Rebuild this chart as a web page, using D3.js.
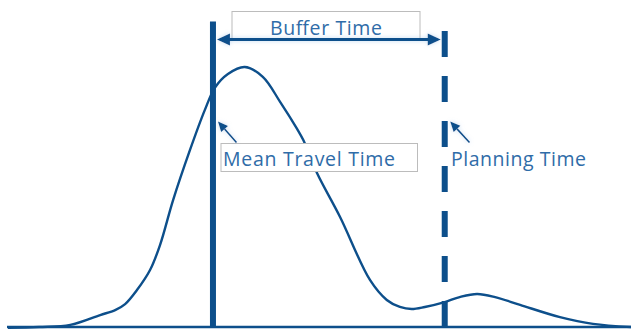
<!DOCTYPE html>
<html>
<head>
<meta charset="utf-8">
<script src="https://cdn.jsdelivr.net/npm/d3@7"></script>
<style>
  html, body { margin: 0; padding: 0; background: #fff; }
  svg { display: block; }
</style>
</head>
<body>
<svg id="chart" width="631" height="330"></svg>
<script>
// Travel-time distribution (time units 0..100, relative density 0..100)
const timeValues = [0, 5, 10, 14.8, 17.2, 18.8, 20.7, 22.8, 24.4, 26.5, 29.2, 31.6, 33.2, 35.3, 38, 40.9, 43.7, 46.4, 47.4, 49.6, 53.3, 58.1, 60.8, 62.9, 64.8, 66.9, 70.1, 72.5, 75.3, 78.2, 82.2, 88.6, 93.9, 100];
const densityValues = [-0.3, 0, 0.8, 4.6, 6.5, 8.8, 14.2, 21.9, 31.5, 48.8, 68, 83.5, 92, 97.3, 100, 96.2, 86.5, 76.2, 71.9, 59.2, 42.3, 18.1, 10.4, 7.7, 6.9, 7.7, 9.6, 11.5, 12.7, 11.5, 8.5, 3.8, 1.2, 0];
const markerNames = ["Mean Travel Time", "Planning Time"];
const markerTimes = [32.9, 70.1];
const bufferLabel = "Buffer Time";

const blue = "#0d4f8b";
const textBlue = "#2f6ca8";
const font = "'Open Sans', Lato, sans-serif";

const svg = d3.select("#chart");
const x = d3.scaleLinear().domain([0, 100]).range([8, 631]);
const y = d3.scaleLinear().domain([0, 100]).range([327, 67]);
const yTop = 117.5; // density value at top of marker lines

const defs = svg.append("defs");
const glow = defs.append("filter").attr("id", "glow").attr("x", "-20%").attr("y", "-100%").attr("width", "140%").attr("height", "300%");
glow.append("feGaussianBlur").attr("in", "SourceAlpha").attr("stdDeviation", 2).attr("result", "b");
glow.append("feFlood").attr("flood-color", "#9cc3e8").attr("flood-opacity", 0.6);
glow.append("feComposite").attr("in2", "b").attr("operator", "in").attr("result", "g");
const m = glow.append("feMerge");
m.append("feMergeNode").attr("in", "g");
m.append("feMergeNode").attr("in", "SourceGraphic");

// baseline
svg.append("line")
  .attr("x1", x(0) - 1).attr("x2", x(100))
  .attr("y1", y(0)).attr("y2", y(0))
  .attr("stroke", blue).attr("stroke-width", 2.6);

// distribution curve
const pts = timeValues.map((t, i) => [t, densityValues[i]]);
const curveLine = d3.line().x(d => x(d[0])).y(d => y(d[1])).curve(d3.curveCatmullRom.alpha(0.5));
svg.append("path")
  .datum(pts)
  .attr("d", curveLine)
  .attr("fill", "none").attr("stroke", blue).attr("stroke-width", 2.4);

// mean line (solid)
svg.append("line")
  .attr("x1", x(markerTimes[0])).attr("x2", x(markerTimes[0]))
  .attr("y1", y(yTop)).attr("y2", y(0))
  .attr("stroke", blue).attr("stroke-width", 6);

// planning line (dashed)
svg.append("line")
  .attr("x1", x(markerTimes[1])).attr("x2", x(markerTimes[1]))
  .attr("y1", y(113.8)).attr("y2", y(0) + 0.5)
  .attr("stroke", blue).attr("stroke-width", 6)
  .attr("stroke-dasharray", "26,19");

// Buffer time label box
const bx1 = 232, bx2 = 420;
svg.append("rect")
  .attr("x", bx1).attr("y", 11.5).attr("width", bx2 - bx1).attr("height", 27)
  .attr("fill", "#fff").attr("stroke", "#bcbcbc").attr("stroke-width", 1);
svg.append("text")
  .attr("x", 270).attr("y", 35)
  .attr("font-family", font).attr("font-size", 19.5)
  .attr("textLength", 112).attr("lengthAdjust", "spacing")
  .attr("fill", textBlue)
  .text(bufferLabel);

// double arrow
const ay = 39.5;
const ax1 = x(markerTimes[0]) + 4, ax2 = x(markerTimes[1]) - 4;
const arrowG = svg.append("g").attr("filter", "url(#glow)");
arrowG.append("line")
  .attr("x1", ax1 + 8).attr("x2", ax2 - 8).attr("y1", ay).attr("y2", ay)
  .attr("stroke", blue).attr("stroke-width", 3);
arrowG.append("path")
  .attr("d", `M${ax1},${ay} L${ax1 + 13},${ay - 6} L${ax1 + 13},${ay + 6} Z`)
  .attr("fill", blue);
arrowG.append("path")
  .attr("d", `M${ax2},${ay} L${ax2 - 13},${ay - 6} L${ax2 - 13},${ay + 6} Z`)
  .attr("fill", blue);

// marker labels
const labelY = 165.5;
svg.append("rect")
  .attr("x", 221).attr("y", 143.5).attr("width", 196.5).attr("height", 28)
  .attr("fill", "#fff").attr("stroke", "#bcbcbc").attr("stroke-width", 1);

svg.append("text")
  .attr("x", 223).attr("y", labelY)
  .attr("font-family", font).attr("font-size", 19.5)
  .attr("textLength", 172).attr("lengthAdjust", "spacing")
  .attr("fill", textBlue)
  .text(markerNames[0]);
svg.append("text")
  .attr("x", 451).attr("y", labelY)
  .attr("font-family", font).attr("font-size", 19.5)
  .attr("textLength", 135).attr("lengthAdjust", "spacing")
  .attr("fill", textBlue)
  .text(markerNames[1]);

// small pointer arrows
function pointer(tx, ty, fx, fy) {
  const g = svg.append("g").attr("filter", "url(#glow)");
  const ang = Math.atan2(fy - ty, fx - tx);
  const L = 10, W = 4.5;
  const bx = tx + L * Math.cos(ang), by = ty + L * Math.sin(ang);
  g.append("line").attr("x1", bx).attr("y1", by).attr("x2", fx).attr("y2", fy)
    .attr("stroke", blue).attr("stroke-width", 1.6);
  g.append("path")
    .attr("d", `M${tx},${ty} L${bx - W * Math.sin(ang)},${by + W * Math.cos(ang)} L${bx + W * Math.sin(ang)},${by - W * Math.cos(ang)} Z`)
    .attr("fill", blue);
}
pointer(x(markerTimes[0]) + 5, 121.5, 236.5, 142.5);
pointer(x(markerTimes[1]) + 5.5, 121.5, 469.5, 142.5);
</script>
</body>
</html>
